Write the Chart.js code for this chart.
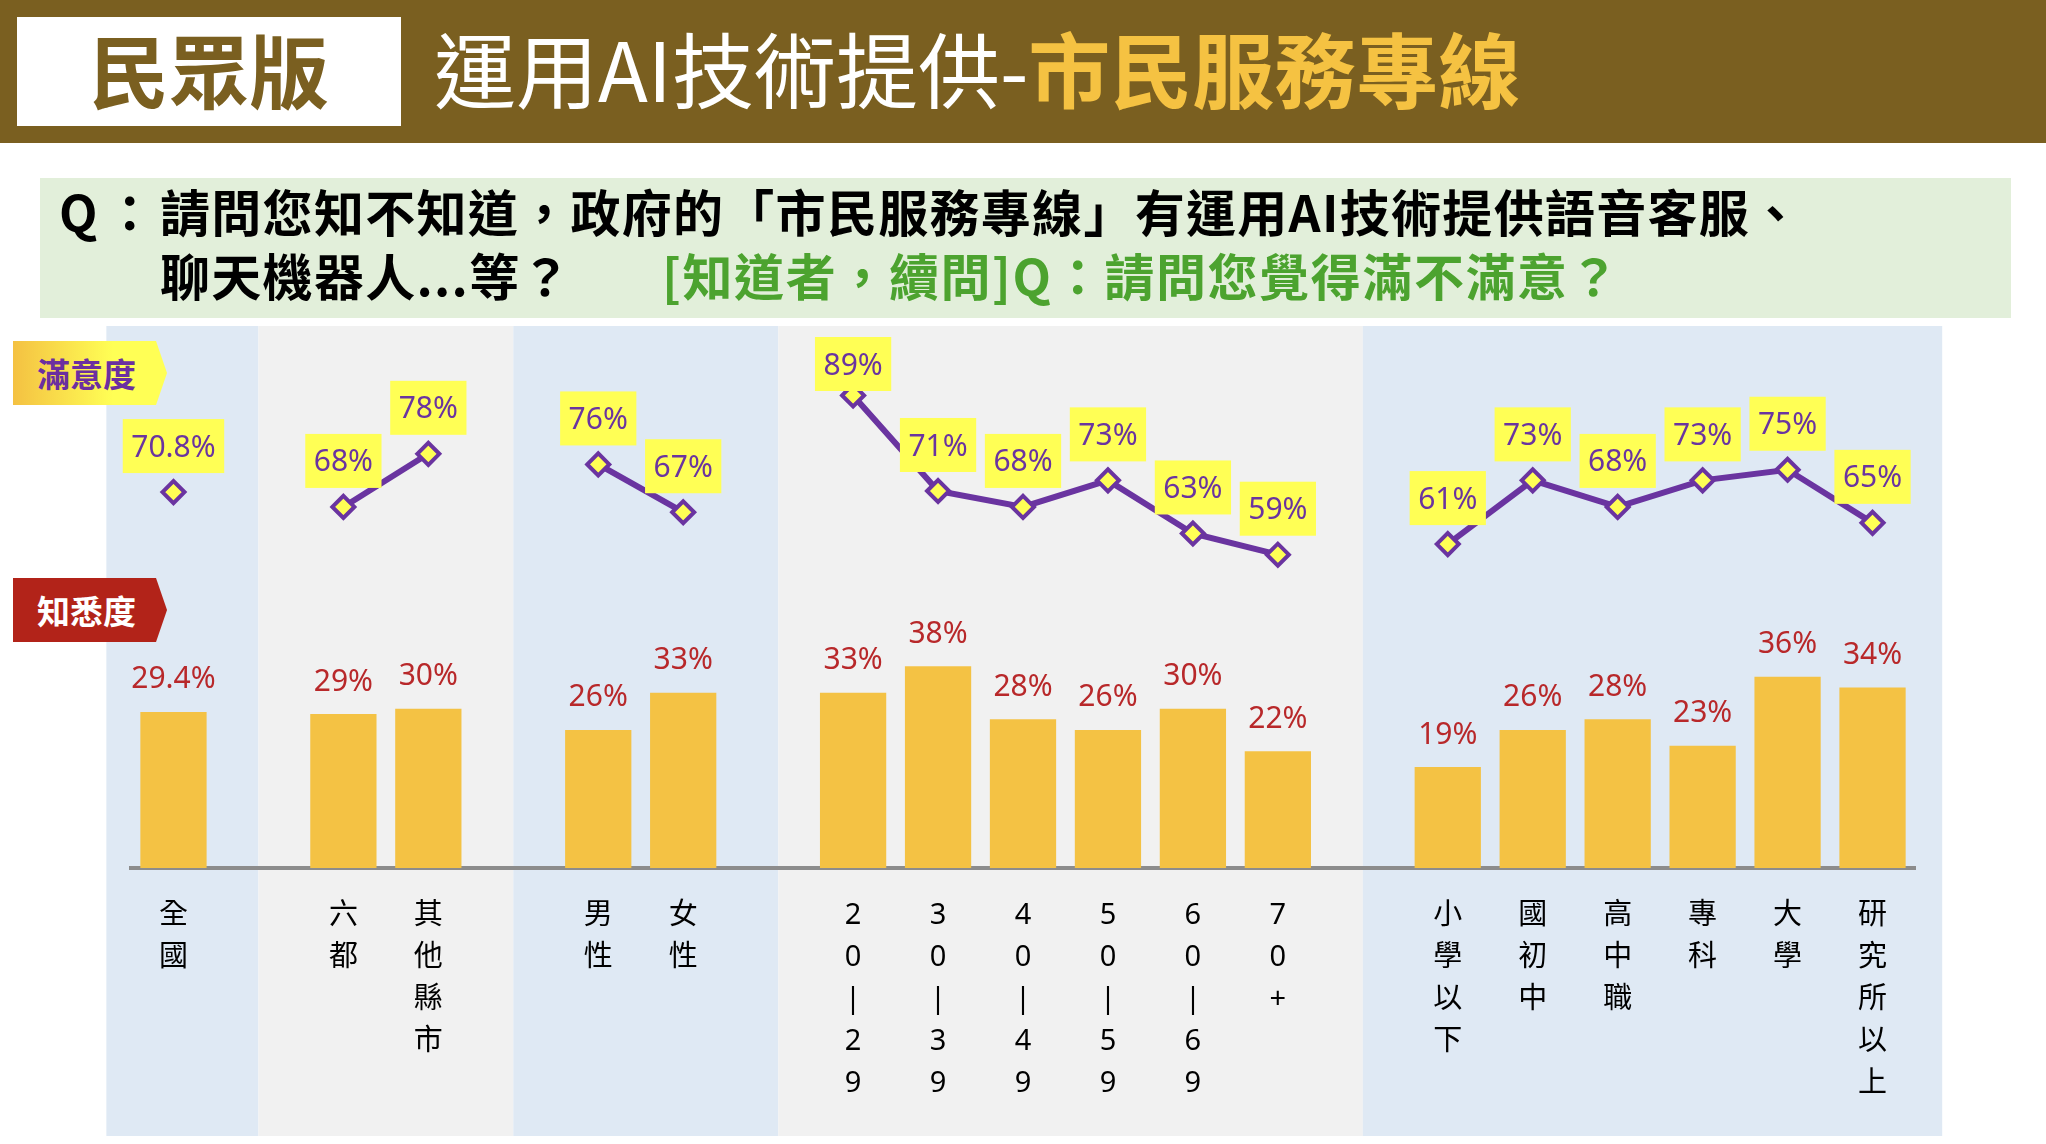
<!DOCTYPE html>
<html lang="zh-Hant">
<head>
<meta charset="utf-8">
<title>運用AI技術提供-市民服務專線</title>
<script src="https://cdn.jsdelivr.net/npm/chart.js@4.4.1/dist/chart.umd.min.js"></script>
<style>
html, body { margin: 0; padding: 0; background: #fff; width: 2046px; height: 1144px; overflow: hidden; font-family: 'Noto Sans CJK TC', sans-serif; }
#chart { position: absolute; left: 0; top: 0; }
.hdr { position: absolute; left: 0; top: 0; width: 2046px; height: 143px; background: #7A5F20; }
.badge { position: absolute; left: 17px; top: 17px; width: 384px; height: 109px; background: #fff; color: #7A5F20; font-weight: 700; font-size: 80px; line-height: 100px; text-align: center; }
.title { position: absolute; left: 434px; top: 12px; line-height: 109px; font-size: 82px; color: #fff; white-space: nowrap; font-weight: 400; }
.title b { color: #F5C242; font-weight: 700; }
.q { position: absolute; left: 40px; top: 178px; width: 1971px; height: 140px; background: #E2EFDA; }
.q span { position: absolute; font-weight: 700; font-size: 50px; line-height: 60px; white-space: nowrap; color: #000; letter-spacing: 1.3px; }
.q .green { color: #4CA32F; letter-spacing: 1.6px; }
.tag { position: absolute; left: 13px; width: 130px; height: 64px; padding-left: 24px; font-weight: 700; font-size: 33px; line-height: 64px;
       clip-path: polygon(0 0, 143px 0, 154px 50%, 143px 100%, 0 100%); z-index: 2; }
.tag.sat { top: 341px; background: linear-gradient(to right, #F4C142, #FFFF55 65%); color: #6B2FA0; }
.tag.aware { top: 578px; background: #B22319; color: #fff; }
</style>
</head>
<body>
<canvas id="chart" width="2046" height="1144"></canvas>

<div class="hdr">
  <div class="badge">民眾版</div>
  <div class="title">運用AI技術提供-<b>市民服務專線</b></div>
</div>
<div class="q">
  <span style="left:19px; top:2px;">Q<span style="position:static; margin-left:6px;">：</span></span>
  <span style="left:120px; top:2px;">請問您知不知道，政府的「市民服務專線」有運用AI技術提供語音客服、</span>
  <span style="left:120px; top:66px;">聊天機器人...等？</span>
  <span class="green" style="left:622px; top:66px;">[知道者，續問]Q：請問您覺得滿不滿意？</span>
</div>
<div class="tag sat">滿意度</div>
<div class="tag aware">知悉度</div>

<script>
// 類別 (空字串 = 組間空白)
const categories = [
    ['全','國'], '',
    ['六','都'], ['其','他','縣','市'], '',
    ['男','性'], ['女','性'], '',
    ['2','0','|','2','9'], ['3','0','|','3','9'], ['4','0','|','4','9'],
    ['5','0','|','5','9'], ['6','0','|','6','9'], ['7','0','+'], '',
    ['小','學','以','下'], ['國','初','中'], ['高','中','職'], ['專','科'], ['大','學'], ['研','究','所','以','上']
];

// 知悉度 (%)
const awareness = [29.4, null, 29, 30, null, 26, 33, null, 33, 38, 28, 26, 30, 22, null, 19, 26, 28, 23, 36, 34];

// 滿意度 (%)
const satisfaction = [70.8, null, 68, 78, null, 76, 67, null, 89, 71, 68, 73, 63, 59, null, 61, 73, 68, 73, 75, 65];

const yMin = 0;
const yMax = 100;

// 背景色帶 (以類別索引表示邊界)
const bandEdges = [-0.79, 1, 4, 7.12, 14, 20.82];
const bandColors = ['#DFE9F4', '#F1F1F1', '#DFE9F4', '#F1F1F1', '#DFE9F4'];

const bandsPlugin = {
    id: 'bands',
    beforeDraw(chart) {
        const { ctx, chartArea } = chart;
        const x = chart.scales.x;
        const p0 = x.getPixelForValue(0);
        const step = x.getPixelForValue(1) - p0;
        const top = chartArea.top - 11;
        const bottom = chart.height - 8;
        ctx.save();
        for (let i = 0; i < bandColors.length; i++) {
            const a = p0 + bandEdges[i] * step;
            const b = p0 + bandEdges[i + 1] * step;
            ctx.fillStyle = bandColors[i];
            ctx.fillRect(a, top, b - a, bottom - top);
        }
        ctx.restore();
    }
};

const labelsPlugin = {
    id: 'valueLabels',
    afterDatasetsDraw(chart) {
        const ctx = chart.ctx;
        ctx.save();
        ctx.font = '30px "Noto Sans", sans-serif';
        ctx.textAlign = 'center';
        ctx.textBaseline = 'middle';

        // 知悉度 標籤
        chart.getDatasetMeta(0).data.forEach((bar, i) => {
            const v = awareness[i];
            if (v == null) return;
            ctx.fillStyle = '#B8282A';
            ctx.fillText(v + '%', bar.x, bar.y - 32);
        });

        // 滿意度 標籤 (黃底)
        chart.getDatasetMeta(1).data.forEach((pt, i) => {
            const v = satisfaction[i];
            if (v == null) return;
            const txt = v + '%';
            const w = ctx.measureText(txt).width + 17;
            const h = 54;
            let cy = pt.y - 46;
            if (cy - h / 2 < chart.chartArea.top) cy = chart.chartArea.top + h / 2;
            ctx.fillStyle = '#FFFF55';
            ctx.fillRect(pt.x - w / 2, cy - h / 2, w, h);
            ctx.fillStyle = '#6A34A0';
            ctx.fillText(txt, pt.x, cy + 2);
        });
        ctx.restore();
    }
};

new Chart(document.getElementById('chart').getContext('2d'), {
    type: 'bar',
    data: {
        labels: categories,
        datasets: [
            {
                label: '知悉度',
                data: awareness,
                backgroundColor: '#F4C244',
                barPercentage: 0.78,
                categoryPercentage: 1
            },
            {
                type: 'line',
                label: '滿意度',
                data: satisfaction,
                borderColor: '#6A34A0',
                borderWidth: 6,
                tension: 0,
                spanGaps: false,
                pointStyle: 'rectRot',
                pointRadius: 11,
                pointBorderWidth: 4,
                pointBackgroundColor: '#FFFF55',
                pointBorderColor: '#6A34A0',
                clip: false
            }
        ]
    },
    options: {
        responsive: false,
        animation: false,
        devicePixelRatio: 1,
        layout: { padding: { top: 337, left: 131, right: 131, bottom: 0 } },
        plugins: {
            legend: { display: false },
            tooltip: { enabled: false }
        },
        scales: {
            x: {
                grid: { display: false, drawTicks: false },
                border: { display: true, color: '#8C8C8C', width: 4 },
                ticks: {
                    autoSkip: false,
                    maxRotation: 0,
                    padding: 27,
                    color: '#000',
                    font: { family: '"Noto Sans", "Noto Sans CJK TC", sans-serif', size: 29, lineHeight: '42px' }
                },
                afterFit(scale) { scale.height = 276; }
            },
            y: {
                display: false,
                min: yMin,
                max: yMax
            }
        }
    },
    plugins: [bandsPlugin, labelsPlugin]
});
</script>
</body>
</html>
